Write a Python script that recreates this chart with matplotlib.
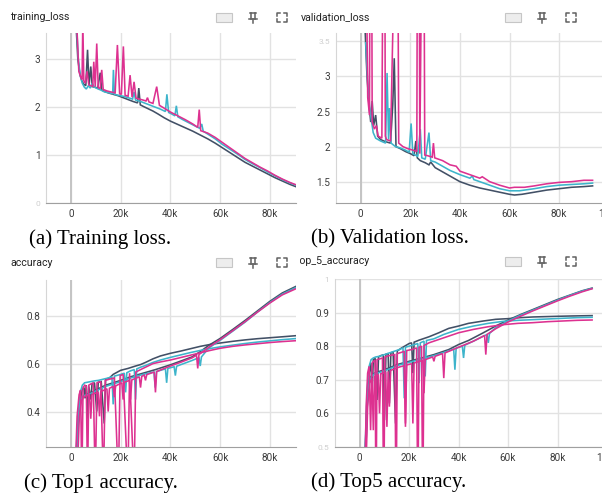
import numpy as np
import matplotlib.pyplot as plt
from matplotlib.patches import Rectangle
from matplotlib.lines import Line2D
from matplotlib.transforms import Bbox, TransformedBbox

# ---- data (steps in thousands) ----
# (a) training loss
loss_steps_dark = [2.0, 2.8, 3.6, 4.4, 5.2, 6.0, 6.7, 7.3, 8.0, 8.6,
                   9.6, 10.8, 11.8, 12.4, 13.5, 15.0, 17.0, 19.0, 21.0, 23.0,
                   25.0, 26.8, 27.3, 27.9, 29.0, 31.0, 33.0, 35.0, 37.5, 40.0,
                   43.0, 46.0, 49.0, 52.0, 55.0, 58.0, 61.0, 64.0, 67.0, 70.0,
                   73.0, 76.0, 79.0, 82.0, 85.0, 88.0, 91.0]
loss_dark = [3.8, 3.0, 2.7, 2.55, 2.48, 2.45, 3.2, 2.45, 2.85, 2.43,
             2.42, 2.4, 2.72, 2.36, 2.33, 2.3, 2.27, 2.24, 2.2, 2.16,
             2.12, 2.09, 2.4, 2.05, 2.02, 1.97, 1.92, 1.86, 1.78, 1.71,
             1.64, 1.57, 1.5, 1.42, 1.34, 1.25, 1.15, 1.05, 0.95, 0.85,
             0.77, 0.69, 0.61, 0.53, 0.46, 0.39, 0.33]
loss_steps_cyan = [2.2, 3.0, 3.8, 4.6, 5.4, 6.2, 7.0, 7.8, 8.6, 9.4,
                   10.2, 11.0, 12.0, 13.5, 15.5, 16.8, 17.1, 17.5, 19.0, 21.0,
                   23.0, 24.8, 25.4, 26.0, 28.0, 30.0, 32.0, 34.0, 36.0, 38.0,
                   38.6, 39.3, 40.5, 41.8, 42.4, 43.0, 45.0, 48.0, 51.0, 51.8,
                   52.6, 53.2, 55.0, 58.0, 61.0, 64.0, 67.0, 70.0, 73.0, 76.0,
                   79.0, 82.0, 85.0, 88.0, 91.0]
loss_cyan = [3.8, 3.0, 2.65, 2.5, 2.42, 2.38, 2.45, 2.4, 2.5, 2.42,
             2.4, 2.38, 2.36, 2.32, 2.3, 2.28, 2.78, 2.27, 2.25, 2.23,
             2.2, 2.17, 2.32, 2.15, 2.12, 2.08, 2.04, 2.0, 1.96, 1.91,
             2.27, 1.89, 1.86, 1.82, 2.03, 1.8, 1.74, 1.66, 1.58, 1.56,
             1.65, 1.5, 1.44, 1.34, 1.22, 1.12, 1.02, 0.91, 0.82, 0.74,
             0.65, 0.57, 0.49, 0.42, 0.36]
loss_steps_mag = [2.3, 3.2, 4.0, 4.5, 4.8, 5.2, 5.8, 6.5, 7.2, 8.0,
                  8.8, 9.2, 9.8, 10.4, 11.0, 11.8, 12.4, 13.0, 14.5, 16.0,
                  17.8, 18.7, 19.6, 20.3, 21.1, 21.8, 23.0, 23.8, 24.6, 25.4,
                  26.2, 27.5, 29.0, 30.2, 30.8, 31.4, 33.0, 34.5, 35.6, 37.5,
                  40.0, 43.0, 46.0, 49.0, 51.0, 51.6, 52.2, 55.0, 58.0, 61.0,
                  64.0, 67.0, 70.0, 73.0, 76.0, 79.0, 82.0, 85.0, 88.0, 91.0]
loss_mag = [3.8, 2.75, 2.62, 2.58, 3.8, 2.55, 2.5, 2.75, 2.47, 2.45,
            2.44, 2.95, 2.43, 3.33, 2.41, 2.39, 2.78, 2.37, 2.34, 2.32,
            2.3, 3.3, 2.28, 2.27, 3.27, 2.25, 2.23, 2.67, 2.21, 2.53,
            2.19, 2.17, 2.15, 2.13, 2.2, 2.11, 2.08, 2.43, 2.04, 1.98,
            1.9, 1.82, 1.74, 1.65, 1.58, 1.95, 1.51, 1.46, 1.37, 1.26,
            1.15, 1.04, 0.93, 0.84, 0.75, 0.67, 0.58, 0.5, 0.43, 0.37]

# (b) validation loss
vloss_steps_dark = [1.7, 2.5, 3.3, 4.0, 4.6, 5.2, 6.0, 6.8, 8.0, 10.0,
                    12.0, 12.9, 13.5, 14.2, 16.0, 18.0, 20.0, 21.5, 22.2, 22.8,
                    24.0, 26.0, 27.5, 28.2, 30.0, 33.0, 36.0, 40.0, 44.0, 48.0,
                    52.0, 56.0, 60.0, 62.0, 65.0, 70.0, 75.0, 80.0, 85.0, 90.0,
                    93.5]
vloss_dark = [3.7, 3.0, 2.6, 2.35, 2.65, 2.3, 2.45, 2.15, 2.1, 2.07,
              2.05, 2.6, 3.26, 2.0, 1.97, 1.93, 1.9, 1.87, 2.08, 1.84,
              1.8, 1.77, 1.74, 1.78, 1.7, 1.64, 1.58, 1.5, 1.45, 1.41,
              1.38, 1.35, 1.32, 1.31, 1.32, 1.35, 1.38, 1.4, 1.42, 1.43,
              1.44]
vloss_steps_cyan = [2.0, 2.8, 3.5, 4.2, 5.0, 6.0, 8.0, 10.0, 10.6, 11.2,
                    11.6, 12.2, 14.0, 16.0, 18.0, 19.5, 20.3, 21.0, 22.0, 23.0,
                    24.0, 24.6, 26.0, 27.5, 28.2, 30.0, 33.0, 36.0, 40.0, 44.0,
                    45.0, 45.6, 48.0, 52.0, 56.0, 60.0, 64.0, 70.0, 75.0, 80.0,
                    85.0, 90.0, 93.5]
vloss_cyan = [3.48, 2.9, 2.6, 2.4, 2.2, 2.12, 2.08, 2.05, 3.05, 2.1,
              2.55, 2.05, 2.0, 1.98, 1.95, 1.92, 2.33, 1.9, 1.88, 1.86,
              2.25, 1.84, 1.82, 2.2, 1.8, 1.78, 1.72, 1.66, 1.6, 1.55,
              1.58, 1.53, 1.5, 1.45, 1.4, 1.37, 1.37, 1.4, 1.43, 1.45,
              1.46, 1.47, 1.48]
vloss_steps_mag = [1.8, 2.8, 3.5, 3.8, 4.3, 4.6, 5.5, 6.3, 7.0, 8.5,
                   9.1, 9.6, 9.9, 10.4, 12.0, 14.3, 14.8, 15.3, 17.0, 19.0,
                   21.0, 22.6, 22.9, 23.5, 23.8, 24.9, 25.4, 25.8, 27.0, 28.8,
                   29.3, 29.8, 33.0, 36.0, 38.5, 40.0, 44.0, 48.0, 49.0, 52.0,
                   56.0, 60.0, 62.0, 66.0, 70.0, 75.0, 80.0, 85.0, 90.0, 93.5]
vloss_mag = [6.0, 2.7, 2.45, 6.0, 6.0, 2.35, 2.25, 2.3, 2.15, 2.12,
             6.0, 6.0, 2.15, 2.1, 2.08, 6.0, 6.0, 2.05, 2.0, 1.97,
             1.95, 1.93, 6.0, 6.0, 1.9, 6.0, 6.0, 1.88, 1.87, 1.85,
             2.05, 1.84, 1.8, 1.74, 1.72, 1.65, 1.6, 1.55, 1.57, 1.5,
             1.45, 1.41, 1.42, 1.42, 1.44, 1.47, 1.49, 1.5, 1.52, 1.52]

# (c) top1 accuracy: validation (flattening) and training (rising)
acc_val_steps_dark = [2.0, 3.0, 3.8, 4.5, 5.3, 5.7, 6.2, 6.7, 7.2, 8.0,
                      8.5, 9.5, 10.4, 11.0, 12.2, 13.4, 14.0, 15.5, 17.0, 20.0,
                      23.0, 26.0, 28.0, 30.0, 33.0, 36.0, 40.0, 44.0, 48.0, 52.0,
                      56.0, 60.0, 65.0, 70.0, 75.0, 80.0, 85.0, 91.0]
acc_val_dark = [0.2, 0.36, 0.45, 0.49, 0.5, 0.455, 0.51, 0.37, 0.505, 0.45,
                0.515, 0.52, 0.4, 0.522, 0.525, 0.35, 0.535, 0.54, 0.555, 0.572,
                0.58, 0.59, 0.596, 0.605, 0.62, 0.632, 0.643, 0.652, 0.662, 0.672,
                0.68, 0.686, 0.693, 0.699, 0.704, 0.708, 0.712, 0.717]
acc_val_steps_cyan = [2.2, 3.0, 3.8, 4.6, 5.5, 6.5, 8.0, 9.5, 11.0, 13.0,
                      15.0, 16.5, 17.0, 17.5, 19.0, 20.0, 21.5, 22.0, 22.5, 24.0,
                      25.5, 26.0, 26.5, 28.0, 30.0, 33.0, 36.0, 40.0, 44.0, 48.0,
                      52.0, 56.0, 60.0, 65.0, 70.0, 75.0, 80.0, 85.0, 91.0]
acc_val_cyan = [0.25, 0.4, 0.48, 0.51, 0.52, 0.522, 0.525, 0.528, 0.53, 0.535,
                0.54, 0.545, 0.43, 0.548, 0.552, 0.555, 0.56, 0.48, 0.562, 0.57,
                0.575, 0.45, 0.578, 0.585, 0.592, 0.605, 0.615, 0.626, 0.636, 0.646,
                0.655, 0.663, 0.67, 0.677, 0.684, 0.69, 0.695, 0.7, 0.705]
acc_val_steps_mag = [1.6, 2.5, 3.3, 3.9, 4.4, 4.9, 5.6, 6.2, 6.7, 7.2,
                     8.0, 9.0, 9.8, 10.5, 12.0, 13.1, 13.8, 15.5, 17.5, 19.1,
                     19.8, 21.0, 22.9, 23.6, 25.4, 26.1, 28.0, 30.0, 33.0, 36.0,
                     40.0, 44.0, 48.0, 52.0, 56.0, 60.0, 65.0, 70.0, 75.0, 80.0,
                     85.0, 91.0]
acc_val_mag = [0.1, 0.38, 0.47, 0.49, 0.1, 0.5, 0.51, 0.505, 0.1, 0.51,
               0.515, 0.52, 0.1, 0.52, 0.525, 0.1, 0.53, 0.535, 0.54, 0.1,
               0.55, 0.555, 0.1, 0.56, 0.1, 0.565, 0.575, 0.585, 0.6, 0.607,
               0.615, 0.625, 0.635, 0.645, 0.655, 0.664, 0.672, 0.678, 0.683, 0.688,
               0.692, 0.696]
acc_tr_steps_dark = [2.2, 3.0, 3.8, 4.6, 5.5, 7.0, 8.5, 10.0, 12.0, 14.0,
                     17.0, 20.0, 24.0, 29.0, 34.0, 40.0, 44.0, 48.7, 52.0, 55.4,
                     60.0, 65.0, 70.0, 75.0, 80.0, 85.0, 91.0]
acc_tr_dark = [0.2, 0.38, 0.44, 0.46, 0.47, 0.474, 0.48, 0.49, 0.5, 0.51,
               0.52, 0.53, 0.545, 0.56, 0.575, 0.595, 0.61, 0.628, 0.65, 0.676,
               0.705, 0.742, 0.78, 0.82, 0.86, 0.895, 0.925]
acc_tr_steps_cyan = [2.4, 3.2, 4.0, 4.8, 5.6, 7.0, 8.5, 10.0, 12.0, 14.0,
                     17.0, 20.0, 24.0, 29.0, 33.4, 33.9, 34.4, 38.0, 38.5, 39.0,
                     41.5, 42.0, 42.5, 44.0, 48.7, 51.5, 52.0, 52.5, 55.4, 60.0,
                     65.0, 70.0, 75.0, 80.0, 85.0, 91.0]
acc_tr_cyan = [0.22, 0.4, 0.45, 0.462, 0.468, 0.472, 0.478, 0.486, 0.495, 0.505,
               0.515, 0.525, 0.54, 0.555, 0.565, 0.5, 0.567, 0.578, 0.52, 0.58,
               0.587, 0.55, 0.589, 0.595, 0.613, 0.625, 0.59, 0.628, 0.665, 0.697,
               0.735, 0.773, 0.815, 0.855, 0.89, 0.92]
acc_tr_steps_mag = [2.6, 3.4, 4.2, 5.0, 6.0, 7.5, 8.0, 8.5, 11.0, 11.5,
                    12.0, 14.5, 15.0, 15.5, 17.0, 17.5, 18.0, 20.5, 21.0, 21.5,
                    23.5, 24.0, 24.5, 27.5, 28.0, 28.5, 29.5, 30.0, 30.5, 33.5,
                    34.0, 34.5, 40.0, 44.0, 48.7, 50.5, 51.0, 51.5, 55.4, 60.0,
                    65.0, 70.0, 75.0, 80.0, 85.0, 91.0]
acc_tr_mag = [0.15, 0.38, 0.44, 0.46, 0.465, 0.47, 0.37, 0.472, 0.48, 0.38,
              0.483, 0.495, 0.4, 0.497, 0.505, 0.46, 0.507, 0.52, 0.45, 0.522,
              0.53, 0.45, 0.532, 0.545, 0.5, 0.547, 0.552, 0.53, 0.554, 0.565,
              0.48, 0.567, 0.59, 0.605, 0.624, 0.635, 0.58, 0.638, 0.668, 0.7,
              0.737, 0.775, 0.815, 0.853, 0.887, 0.915]

# (d) top5 accuracy
top5_val_steps_dark = [2.0, 3.0, 3.8, 4.5, 5.0, 5.5, 6.2, 7.0, 7.6, 8.5,
                       9.5, 10.0, 10.6, 11.5, 12.0, 12.6, 13.5, 14.5, 15.2, 17.0,
                       20.0, 21.0, 21.5, 22.0, 24.0, 28.0, 32.0, 36.0, 40.0, 44.0,
                       50.0, 55.0, 60.0, 65.0, 70.0, 75.0, 80.0, 86.0, 94.0]
top5_val_dark = [0.45, 0.64, 0.72, 0.75, 0.66, 0.76, 0.765, 0.64, 0.768, 0.772,
                 0.774, 0.58, 0.776, 0.778, 0.63, 0.78, 0.783, 0.57, 0.786, 0.795,
                 0.808, 0.81, 0.72, 0.812, 0.818, 0.828, 0.84, 0.853, 0.86, 0.868,
                 0.875, 0.88, 0.882, 0.885, 0.887, 0.888, 0.889, 0.89, 0.891]
top5_val_steps_cyan = [2.2, 3.0, 3.8, 4.6, 5.5, 6.5, 8.0, 10.0, 12.0, 14.0,
                       16.0, 17.5, 18.0, 18.5, 20.0, 23.5, 24.0, 24.5, 26.0, 26.5,
                       27.0, 30.0, 34.0, 40.0, 46.0, 52.0, 58.0, 64.0, 70.0, 76.0,
                       82.0, 88.0, 94.0]
top5_val_cyan = [0.5, 0.67, 0.74, 0.76, 0.765, 0.768, 0.77, 0.775, 0.78, 0.785,
                 0.79, 0.795, 0.645, 0.797, 0.8, 0.808, 0.69, 0.81, 0.815, 0.71,
                 0.817, 0.822, 0.835, 0.85, 0.86, 0.868, 0.874, 0.877, 0.879, 0.881,
                 0.883, 0.885, 0.886]
top5_val_steps_mag = [1.8, 2.6, 3.2, 3.8, 4.4, 5.0, 5.6, 6.2, 6.6, 7.0,
                      8.0, 9.2, 9.7, 10.2, 12.0, 14.2, 14.7, 15.2, 17.0, 18.0,
                      18.5, 19.0, 21.0, 23.0, 23.5, 24.0, 25.0, 25.5, 26.0, 28.0,
                      32.0, 36.0, 40.0, 46.0, 52.0, 58.0, 64.0, 70.0, 76.0, 82.0,
                      88.0, 94.0]
top5_val_mag = [0.3, 0.62, 0.72, 0.74, 0.55, 0.75, 0.755, 0.758, 0.3, 0.76,
                0.762, 0.765, 0.3, 0.768, 0.772, 0.775, 0.3, 0.778, 0.782, 0.785,
                0.56, 0.787, 0.79, 0.795, 0.3, 0.797, 0.8, 0.3, 0.802, 0.81,
                0.82, 0.83, 0.84, 0.85, 0.858, 0.864, 0.868, 0.87, 0.873, 0.875,
                0.877, 0.878]
top5_tr_steps_dark = [2.3, 3.2, 4.0, 5.0, 6.0, 8.0, 10.0, 12.5, 15.0, 17.5,
                      20.0, 25.0, 30.0, 36.0, 40.0, 44.0, 50.0, 55.0, 60.0, 65.0,
                      70.0, 75.0, 80.0, 85.0, 90.0, 94.0]
top5_tr_dark = [0.45, 0.66, 0.7, 0.715, 0.72, 0.725, 0.73, 0.737, 0.745, 0.75,
                0.755, 0.765, 0.775, 0.79, 0.805, 0.817, 0.84, 0.86, 0.878, 0.894,
                0.909, 0.924, 0.939, 0.952, 0.965, 0.973]
top5_tr_steps_cyan = [2.5, 3.3, 4.1, 5.0, 6.0, 8.0, 10.0, 12.5, 15.0, 17.5,
                      20.0, 25.0, 30.0, 36.0, 38.0, 38.5, 39.0, 41.5, 42.0, 42.5,
                      46.0, 51.5, 52.0, 52.5, 55.0, 60.0, 65.0, 70.0, 75.0, 80.0,
                      85.0, 90.0, 94.0]
top5_tr_cyan = [0.5, 0.67, 0.7, 0.712, 0.718, 0.722, 0.727, 0.734, 0.742, 0.747,
                0.752, 0.762, 0.772, 0.786, 0.792, 0.73, 0.794, 0.8, 0.765, 0.803,
                0.815, 0.835, 0.81, 0.838, 0.855, 0.875, 0.892, 0.907, 0.922, 0.937,
                0.951, 0.964, 0.972]
top5_tr_steps_mag = [2.4, 3.2, 4.0, 5.0, 5.5, 6.0, 7.5, 8.0, 8.5, 10.5,
                     11.0, 11.5, 12.0, 12.5, 16.0, 18.0, 18.5, 19.0, 21.0, 21.5,
                     22.0, 25.5, 26.0, 26.5, 29.5, 30.0, 30.5, 33.5, 34.0, 34.5,
                     40.0, 46.0, 50.5, 51.0, 51.5, 55.0, 60.0, 65.0, 70.0, 75.0,
                     80.0, 85.0, 90.0, 94.0]
top5_tr_mag = [0.4, 0.62, 0.69, 0.705, 0.55, 0.71, 0.715, 0.6, 0.718, 0.722,
               0.56, 0.725, 0.62, 0.728, 0.738, 0.742, 0.57, 0.744, 0.748, 0.57,
               0.75, 0.758, 0.66, 0.76, 0.768, 0.755, 0.77, 0.778, 0.705, 0.78,
               0.797, 0.815, 0.832, 0.775, 0.835, 0.852, 0.872, 0.889, 0.905, 0.92,
               0.935, 0.949, 0.962, 0.971]

DARK, CYAN, MAG = "#425066", "#3db4cb", "#dd3190"

W, H = 602, 493
fig = plt.figure(figsize=(W / 100, H / 100), dpi=100)


def fx(x):
    return x / W


def fy(y):
    return 1 - y / H


def panel(l, t, r, b, xmax, ylim, yticks, faint=()):
    ax = fig.add_axes([fx(l), fy(b), (r - l) / W, (b - t) / H])
    ax.set_xlim(-10, xmax)
    ax.set_ylim(*ylim)
    ax.set_xticks([0, 20, 40, 60, 80])
    ax.set_xticklabels(["0", "20k", "40k", "60k", "80k"])
    ax.set_yticks(yticks)
    ax.set_yticklabels(["%g" % v for v in yticks])
    ax.grid(color="#e2e2e2", lw=1)
    ax.set_axisbelow(True)
    ax.axvline(0, color="#c4c4c4", lw=1.4, zorder=1)
    for s in ["top", "right"]:
        ax.spines[s].set_visible(False)
    ax.spines["left"].set_color("#d6d6d6")
    ax.spines["bottom"].set_color("#a0a0a0")
    ax.tick_params(length=0, labelsize=7.2, labelcolor="#3c3c3c", pad=4)
    for lab in ax.get_xticklabels() + ax.get_yticklabels():
        lab.set_family("Roboto")
    # labels at the clipped edges are drawn faded
    for lab, v in zip(ax.get_yticklabels(), yticks):
        if v in faint:
            lab.set_color("#cfcfcf")
            lab.set_fontsize(6)
    return ax


def draw(ax, series):
    for xs, ys, c in series:
        ax.plot(xs, ys, color=c, lw=1.15, solid_joinstyle="miter")


def icons(x0, yc):
    c = "#616161"
    fig.add_artist(Rectangle((fx(x0), fy(yc + 4.5)), 16 / W, 9 / H,
                             transform=fig.transFigure, facecolor="#ededed",
                             edgecolor="#c6c6c6", lw=0.8))
    px = x0 + 37
    segs = [[(px - 3, yc - 4.5), (px + 3, yc - 4.5)],
            [(px - 2, yc - 4.5), (px - 2, yc + 1)],
            [(px + 2, yc - 4.5), (px + 2, yc + 1)],
            [(px - 4, yc + 1), (px + 4, yc + 1)],
            [(px, yc + 1), (px, yc + 5)]]
    bx0, bx1, by0, by1 = x0 + 61, x0 + 71, yc - 4.5, yc + 4.5
    for sx, sy in [(bx0, by0), (bx1, by0), (bx0, by1), (bx1, by1)]:
        dx = 3 if sx == bx0 else -3
        dy = 3 if sy == by0 else -3
        segs.append([(sx, sy + dy), (sx, sy), (sx + dx, sy)])
    for s in segs:
        xs, ys = zip(*s)
        fig.add_artist(Line2D([fx(v) for v in xs], [fy(v) for v in ys],
                              transform=fig.transFigure, color=c, lw=1.1))


def right_clip(t):
    t.set_clip_box(TransformedBbox(Bbox([[fx(300), 0], [1, 1]]), fig.transFigure))
    t.set_clip_on(True)


title_kw = dict(fontsize=7.6, family="Roboto", color="#212121", va="center")
cap_kw = dict(fontsize=15, family="Liberation Serif", color="black", va="center")

# (a)
ax = panel(46, 33, 296, 203, 90.5, (0, 3.55), [0, 1, 2, 3], faint=(0,))
draw(ax, [(loss_steps_dark, loss_dark, DARK),
          (loss_steps_cyan, loss_cyan, CYAN),
          (loss_steps_mag, loss_mag, MAG)])
fig.text(fx(10), fy(17.5), "training_loss", **title_kw)
icons(216, 17.5)
fig.text(fx(29), fy(239), "(a) Training loss.", **cap_kw)

# (b)
ax = panel(336, 33, 602, 203, 97.3, (1.196, 3.62), [1.5, 2, 2.5, 3, 3.5], faint=(3.5,))
draw(ax, [(vloss_steps_dark, vloss_dark, DARK),
          (vloss_steps_cyan, vloss_cyan, CYAN),
          (vloss_steps_mag, vloss_mag, MAG)])
ax.annotate("100k", xy=(100, 0), xycoords=("data", "axes fraction"),
            xytext=(0, -4), textcoords="offset points", ha="center", va="top",
            fontsize=7.2, family="Roboto", color="#3c3c3c", annotation_clip=False)
t = fig.text(fx(300.5), fy(17.5), "validation_loss", **title_kw)
right_clip(t)
icons(505, 17.5)
fig.text(fx(311), fy(239), "(b) Validation loss.", **cap_kw)

# (c)
ax = panel(46, 280, 296, 447, 90.5, (0.252, 0.949), [0.4, 0.6, 0.8])
draw(ax, [(acc_tr_steps_dark, acc_tr_dark, DARK),
          (acc_val_steps_dark, acc_val_dark, DARK),
          (acc_tr_steps_cyan, acc_tr_cyan, CYAN),
          (acc_val_steps_cyan, acc_val_cyan, CYAN),
          (acc_tr_steps_mag, acc_tr_mag, MAG),
          (acc_val_steps_mag, acc_val_mag, MAG)])
fig.text(fx(10), fy(262.5), "accuracy", **title_kw)
icons(216, 262.5)
fig.text(fx(24), fy(483), "(c) Top1 accuracy.", **cap_kw)

# (d)
ax = panel(335, 279, 602, 447, 98.0, (0.5, 1.0), [0.5, 0.6, 0.7, 0.8, 0.9, 1.0],
           faint=(0.5, 1.0))
draw(ax, [(top5_tr_steps_dark, top5_tr_dark, DARK),
          (top5_val_steps_dark, top5_val_dark, DARK),
          (top5_tr_steps_cyan, top5_tr_cyan, CYAN),
          (top5_val_steps_cyan, top5_val_cyan, CYAN),
          (top5_tr_steps_mag, top5_tr_mag, MAG),
          (top5_val_steps_mag, top5_val_mag, MAG)])
ax.annotate("100k", xy=(100, 0), xycoords=("data", "axes fraction"),
            xytext=(0, -4), textcoords="offset points", ha="center", va="top",
            fontsize=7.2, family="Roboto", color="#3c3c3c", annotation_clip=False)
t = fig.text(fx(296.5), fy(261.5), "top_5_accuracy", **title_kw)
right_clip(t)
icons(505, 261.5)
fig.text(fx(311), fy(482), "(d) Top5 accuracy.", **cap_kw)

fig.savefig("out.png", dpi=100)
